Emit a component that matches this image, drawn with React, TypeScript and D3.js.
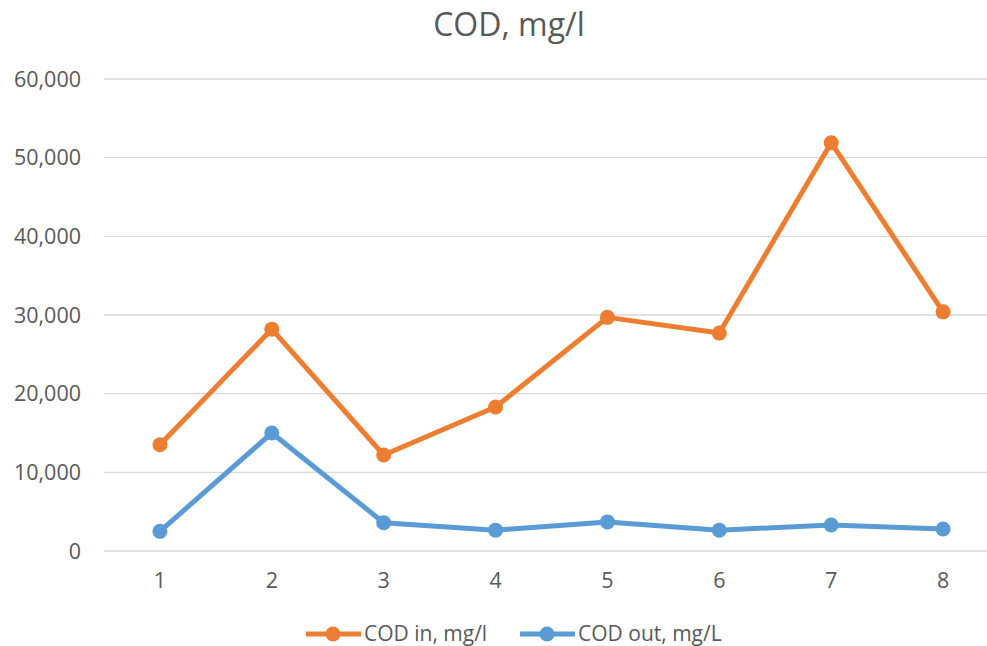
import React, { useEffect, useRef } from 'react';
import * as d3 from 'd3';

const categories = ['1', '2', '3', '4', '5', '6', '7', '8'];
const codIn = [13500, 28200, 12200, 18300, 29700, 27700, 51900, 30400];
const codOut = [2500, 15000, 3600, 2650, 3700, 2650, 3300, 2800];
const yTicks = [0, 10000, 20000, 30000, 40000, 50000, 60000];

const series = [
  { name: 'COD in, mg/l', values: codIn, color: '#ED7D31' },
  { name: 'COD out, mg/L', values: codOut, color: '#5B9BD5' },
];

const App: React.FC = () => {
  const chartRef = useRef<SVGSVGElement | null>(null);

  useEffect(() => {
    const width = 987;
    const height = 646;
    const margin = { top: 79, right: -12, bottom: 95, left: 104 };
    const font = '"Open Sans", "Noto Sans", sans-serif';
    const textColor = '#595959';

    const svg = d3.select(chartRef.current);
    svg.selectAll('*').remove();
    svg.attr('width', width).attr('height', height);

    const x = d3.scalePoint<string>()
      .domain(categories)
      .range([margin.left, width - margin.right])
      .padding(0.5);

    const y = d3.scaleLinear()
      .domain([0, 60000])
      .range([height - margin.bottom, margin.top]);

    // gridlines
    svg.append('g')
      .selectAll('line')
      .data(yTicks)
      .enter().append('line')
      .attr('x1', margin.left)
      .attr('x2', width - margin.right)
      .attr('y1', d => y(d))
      .attr('y2', d => y(d))
      .attr('stroke', '#D9D9D9')
      .attr('stroke-width', 1.3);

    // y labels
    svg.append('g')
      .selectAll('text')
      .data(yTicks)
      .enter().append('text')
      .attr('x', 81)
      .attr('y', d => y(d))
      .attr('dy', '0.35em')
      .attr('text-anchor', 'end')
      .attr('font-family', font)
      .attr('font-size', 21.5)
      .attr('fill', textColor)
      .text(d => d3.format(',')(d));

    // x labels
    svg.append('g')
      .selectAll('text')
      .data(categories)
      .enter().append('text')
      .attr('x', d => x(d)!)
      .attr('y', 580)
      .attr('dy', '0.35em')
      .attr('text-anchor', 'middle')
      .attr('font-family', font)
      .attr('font-size', 21.5)
      .attr('fill', textColor)
      .text(d => d);

    // title
    svg.append('text')
      .attr('x', 509)
      .attr('y', 25)
      .attr('dy', '0.35em')
      .attr('text-anchor', 'middle')
      .attr('font-family', font)
      .attr('font-size', 32)
      .attr('fill', textColor)
      .text('COD, mg/l');

    const line = d3.line<number>()
      .x((_, i) => x(categories[i])!)
      .y(d => y(d));

    series.forEach(s => {
      svg.append('path')
        .datum(s.values)
        .attr('d', line)
        .attr('fill', 'none')
        .attr('stroke', s.color)
        .attr('stroke-width', 5)
        .attr('stroke-linejoin', 'round');

      svg.append('g')
        .selectAll('circle')
        .data(s.values)
        .enter().append('circle')
        .attr('cx', (_, i) => x(categories[i])!)
        .attr('cy', d => y(d))
        .attr('r', 7.5)
        .attr('fill', s.color);
    });

    // legend
    const legendY = 634;
    const legendX = [306, 520];
    series.forEach((s, i) => {
      const g = svg.append('g').attr('transform', `translate(${legendX[i]},${legendY})`);
      g.append('line')
        .attr('x1', 0)
        .attr('x2', 55)
        .attr('stroke', s.color)
        .attr('stroke-width', 5);
      g.append('circle')
        .attr('cx', 27)
        .attr('r', 7.5)
        .attr('fill', s.color);
      g.append('text')
        .attr('x', 58)
        .attr('dy', '0.35em')
        .attr('font-family', font)
        .attr('font-size', 21)
        .attr('fill', textColor)
        .text(s.name);
    });
  }, []);

  return (
    <svg
      ref={chartRef}
      style={{ position: 'absolute', left: 0, top: 0, background: '#fff' }}
    ></svg>
  );
};

export default App;
